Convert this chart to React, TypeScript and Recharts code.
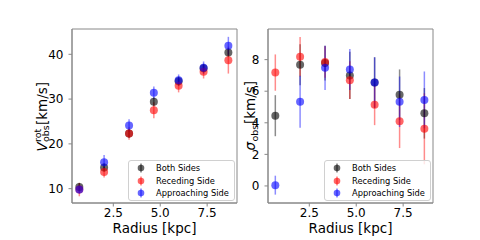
import {
  ScatterChart,
  Scatter,
  XAxis,
  YAxis,
  ErrorBar,
  ReferenceArea,
  Label,
} from 'recharts';

// rayons des anneaux (kpc)
const radius = [0.69, 2.01, 3.34, 4.66, 5.98, 7.31, 8.63];

// vitesse de rotation observée
const vBoth = [10.4, 14.7, 22.3, 29.4, 34.0, 36.9, 40.4];
const vBothErr = [0.9, 0.9, 1.0, 1.0, 1.0, 1.0, 1.0];
const vRec = [9.8, 13.7, 22.3, 27.5, 33.0, 36.1, 38.7];
const vRecErr = [1.5, 1.2, 1.4, 1.8, 1.5, 1.5, 3.0];
const vApp = [9.8, 15.9, 24.1, 31.4, 34.2, 37.0, 41.9];
const vAppErr = [0.9, 1.6, 1.4, 1.4, 1.3, 1.4, 2.0];

// dispersion de vitesse
const sBoth = [4.45, 7.68, 7.78, 7.0, 6.55, 5.78, 4.6];
const sBothErr = [1.3, 1.3, 1.1, 1.5, 1.6, 1.6, 1.6];
const sRec = [7.18, 8.18, 7.85, 6.7, 5.15, 4.1, 3.62];
const sRecErr = [1.15, 1.25, 1.0, 1.2, 1.3, 1.7, 2.25];
const sApp = [0.05, 5.33, 7.48, 7.38, 6.55, 5.33, 5.45];
const sAppErr = [0.6, 1.65, 1.4, 1.3, 1.6, 1.6, 1.8];

const seriesNames = ['Both Sides', 'Receding Side', 'Approaching Side'];
const seriesRgb = ['0,0,0', '255,0,0', '0,0,255'];

const xTicks = [2.5, 5.0, 7.5];
const vTicks = [10, 20, 30, 40];
const sTicks = [0, 2, 4, 6, 8];

const X_DOMAIN: [number, number] = [0.3, 9.09];
const FONT = 'DejaVu Sans';
const FRAME = '#888';

const rows = (y: number[], err: number[]) =>
  radius.map((x, i) => ({ x, y: y[i], err: err[i] }));

const dot = (rgb: string) => (p: any) => (
  <circle cx={p.cx} cy={p.cy} r={4} fill={`rgba(${rgb},0.6)`} />
);

// titres d'axe Y, dessinés en surimpression (coordonnées locales du panneau)
const VLabel = () => (
  <g transform="translate(46.7,116) rotate(-90)" fontFamily={FONT} fill="#000">
    <text x={-35.5} y={0} fontSize={13.5} fontStyle="italic">V</text>
    <text x={-26} y={-5.5} fontSize={9.5}>rot</text>
    <text x={-26} y={2} fontSize={9.5}>obs</text>
    <text x={-9} y={0} fontSize={13.5}>[km/s]</text>
  </g>
);

const SigmaLabel = () => (
  <g transform="translate(15,115) rotate(-90)" fontFamily={FONT} fill="#000">
    <text x={-35.5} y={0} fontSize={13.5} fontStyle="italic">σ</text>
    <text x={-26.5} y={3} fontSize={9.5}>obs</text>
    <text x={-9} y={0} fontSize={13.5}>[km/s]</text>
  </g>
);

function LegendBox({ left }: { left: number }) {
  return (
    <div
      style={{
        position: 'absolute',
        left,
        top: 160,
        width: 105,
        height: 38,
        border: '1px solid #d0d0d0',
        borderRadius: 3,
        background: 'rgba(255,255,255,0.8)',
        fontFamily: FONT,
        fontSize: 8.3,
        paddingTop: 0.5,
      }}
    >
      {seriesNames.map((name, i) => (
        <div key={name} style={{ display: 'flex', alignItems: 'center', height: 12.7 }}>
          <svg width={27} height={12} style={{ flex: 'none' }}>
            <line x1={12} x2={12} y1={1.5} y2={10.5} stroke={`rgba(${seriesRgb[i]},0.5)`} strokeWidth={1.5} />
            <circle cx={12} cy={6} r={3.3} fill={`rgba(${seriesRgb[i]},0.6)`} />
          </svg>
          <span style={{ whiteSpace: 'nowrap' }}>{name}</span>
        </div>
      ))}
    </div>
  );
}

type PanelProps = {
  sets: { y: number[]; err: number[] }[];
  yDomain: [number, number];
  yTicks: number[];
  yWidth: number;
  marginRight: number;
  yLabel: () => any;
  legendLeft: number;
};

function Panel({ sets, yDomain, yTicks, yWidth, marginRight, yLabel, legendLeft }: PanelProps) {
  const plotCenter = yWidth + (240 - yWidth - marginRight) / 2;
  return (
    <div style={{ position: 'relative', width: 240, height: 240, flex: 'none' }}>
      <ScatterChart width={240} height={240} margin={{ top: 29, right: marginRight, bottom: 0, left: 0 }}>
        <ReferenceArea
          x1={X_DOMAIN[0]}
          x2={X_DOMAIN[1]}
          y1={yDomain[0]}
          y2={yDomain[1]}
          fill="none"
          stroke={FRAME}
          strokeWidth={1}
          ifOverflow="visible"
        />
        <XAxis
          type="number"
          dataKey="x"
          domain={X_DOMAIN}
          ticks={xTicks}
          allowDataOverflow
          height={37}
          tickSize={3.5}
          tickMargin={2}
          tickFormatter={(v: number) => v.toFixed(1)}
          tick={{ fill: '#000', fontSize: 12, fontFamily: FONT }}
          stroke={FRAME}
        >
          <Label
            content={() => (
              <text x={plotCenter} y={233} textAnchor="middle" fontSize={13.5} fontFamily={FONT} fill="#000">
                Radius [kpc]
              </text>
            )}
          />
        </XAxis>
        <YAxis
          type="number"
          dataKey="y"
          domain={yDomain}
          ticks={yTicks}
          allowDataOverflow
          width={yWidth}
          tickSize={3.5}
          tickMargin={5}
          tick={{ fill: '#000', fontSize: 12, fontFamily: FONT }}
          stroke={FRAME}
        />
        {sets.map((s, i) => (
          <Scatter
            key={seriesNames[i]}
            name={seriesNames[i]}
            data={rows(s.y, s.err)}
            shape={dot(seriesRgb[i])}
            isAnimationActive={false}
          >
            <ErrorBar
              dataKey="err"
              direction="y"
              width={0}
              stroke={`rgba(${seriesRgb[i]},0.45)`}
              strokeWidth={1.5}
              isAnimationActive={false}
            />
          </Scatter>
        ))}
      </ScatterChart>
      <svg
        width={240}
        height={240}
        style={{ position: 'absolute', left: 0, top: 0, pointerEvents: 'none' }}
      >
        {yLabel()}
      </svg>
      <LegendBox left={legendLeft} />
    </div>
  );
}

export default function App() {
  return (
    <div style={{ position: 'absolute', left: 0, top: 0, width: 480, height: 240, display: 'flex', background: '#fff' }}>
      <Panel
        sets={[
          { y: vBoth, err: vBothErr },
          { y: vRec, err: vRecErr },
          { y: vApp, err: vAppErr },
        ]}
        yDomain={[6.8, 45.65]}
        yTicks={vTicks}
        yWidth={72}
        marginRight={3}
        yLabel={VLabel}
        legendLeft={128}
      />
      <Panel
        sets={[
          { y: sBoth, err: sBothErr },
          { y: sRec, err: sRecErr },
          { y: sApp, err: sAppErr },
        ]}
        yDomain={[-1.08, 9.94]}
        yTicks={sTicks}
        yWidth={28}
        marginRight={47}
        yLabel={SigmaLabel}
        legendLeft={84}
      />
    </div>
  );
}
